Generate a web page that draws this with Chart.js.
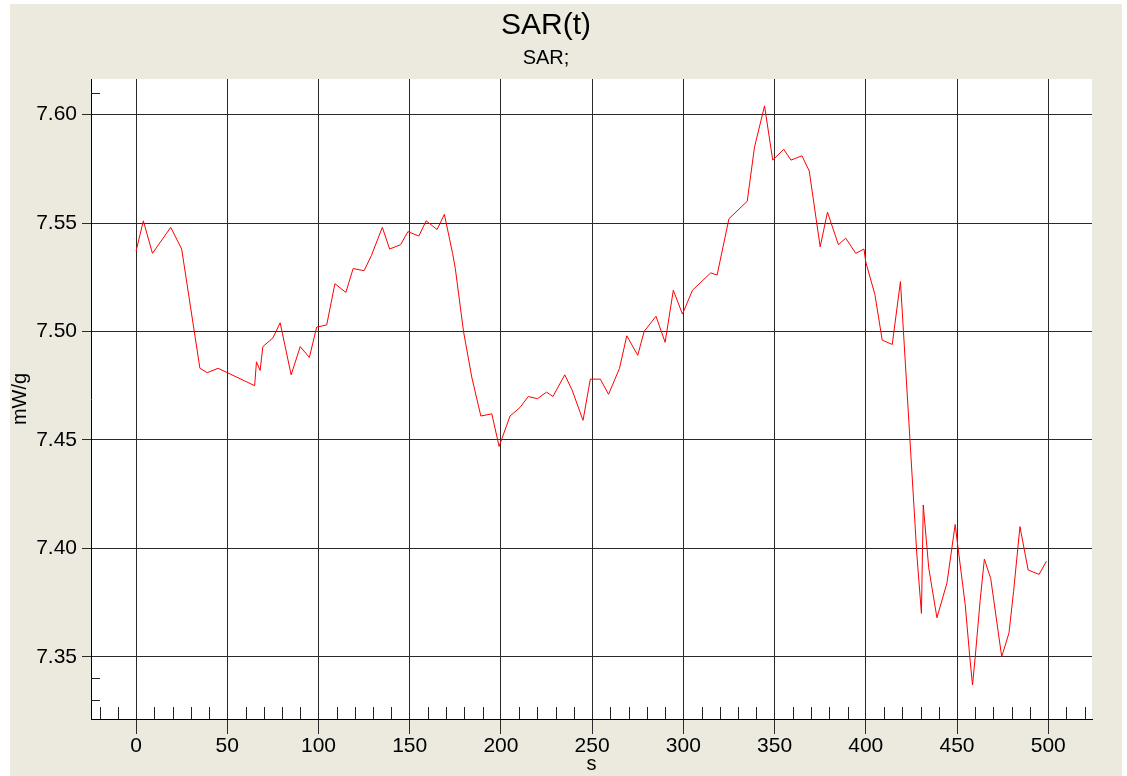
<!DOCTYPE html>
<html>
<head>
<meta charset="utf-8">
<script src="https://cdn.jsdelivr.net/npm/chart.js@4/dist/chart.umd.min.js"></script>
<style>
  html, body { margin: 0; padding: 0; background: #ffffff; }
  #sarChart { display: block; }
</style>
</head>
<body>
<canvas id="sarChart" width="1127" height="776"></canvas>
<script>
// tempo (s) e SAR medido (mW/g)
const tempo = [0, 4, 9, 19, 25, 35, 39, 45, 50, 65,
  66, 68, 69.5, 75, 79, 85, 90, 95, 99, 104.5,
  109, 115, 119, 125, 129, 135, 139, 145, 149, 155,
  159, 165, 169, 173.5, 175, 179.5, 184, 189, 195, 199,
  205, 210.5, 215, 220, 225, 228.5, 235, 239, 245, 249,
  254.5, 259, 265, 269, 275, 278.5, 285, 290, 294.5, 299.5,
  305, 315, 318.5, 325, 335, 339, 344.5, 349, 355, 359,
  365, 369, 375, 379, 385, 389, 394.5, 399, 400, 405,
  409, 414.5, 419, 428, 430.5, 431.5, 434.5, 439, 444.5, 449,
  450, 454.5, 457, 458.5, 460, 462.7, 465, 468.5, 474.5, 478.5,
  481, 484.5, 489, 495, 499];

const valoresSAR = [7.537, 7.551, 7.536, 7.548, 7.538, 7.483, 7.481, 7.483, 7.481, 7.475,
  7.486, 7.482, 7.493, 7.497, 7.504, 7.480, 7.493, 7.488, 7.502, 7.503,
  7.522, 7.518, 7.529, 7.528, 7.535, 7.548, 7.538, 7.540, 7.546, 7.544,
  7.551, 7.547, 7.554, 7.536, 7.529, 7.500, 7.479, 7.461, 7.462, 7.447,
  7.461, 7.465, 7.470, 7.469, 7.472, 7.470, 7.480, 7.473, 7.459, 7.478,
  7.478, 7.471, 7.483, 7.498, 7.489, 7.500, 7.507, 7.495, 7.519, 7.508,
  7.519, 7.527, 7.526, 7.552, 7.560, 7.585, 7.604, 7.579, 7.584, 7.579,
  7.581, 7.574, 7.539, 7.555, 7.540, 7.543, 7.536, 7.538, 7.532, 7.517,
  7.496, 7.494, 7.523, 7.397, 7.370, 7.420, 7.391, 7.368, 7.384, 7.411,
  7.404, 7.374, 7.350, 7.337, 7.350, 7.376, 7.395, 7.386, 7.350, 7.361,
  7.380, 7.410, 7.390, 7.388, 7.394];

// marcas dos eixos
const ticksX = [0, 50, 100, 150, 200, 250, 300, 350, 400, 450, 500];
const ticksY = [7.35, 7.40, 7.45, 7.50, 7.55, 7.60];
const ticksMenoresX = [-20, -10, 10, 20, 30, 40, 60, 70, 80, 90, 110, 120, 130, 140,
  160, 170, 180, 190, 210, 220, 230, 240, 260, 270, 280, 290, 310, 320, 330, 340,
  360, 370, 380, 390, 410, 420, 430, 440, 460, 470, 480, 490, 510, 520];
const ticksMenoresY = [7.61, 7.34, 7.33];

const fonte = "'Liberation Sans', Arial, sans-serif";

const pontos = tempo.map((t, i) => ({ x: t, y: valoresSAR[i] }));

// fundo bege da janela e area do grafico em branco
const fundo = {
  id: 'fundo',
  beforeDraw(chart) {
    const { ctx, chartArea } = chart;
    ctx.save();
    ctx.fillStyle = '#ffffff';
    ctx.fillRect(0, 0, chart.width, chart.height);
    ctx.fillStyle = '#ece9df';
    ctx.fillRect(10, 4, chart.width - 15, chart.height - 4);
    ctx.fillStyle = '#ffffff';
    ctx.fillRect(chartArea.left, chartArea.top, chartArea.right - chartArea.left, chartArea.bottom - chartArea.top);
    ctx.restore();
  }
};

// tracinhos menores por dentro da moldura
const ticksMenores = {
  id: 'ticksMenores',
  afterDraw(chart) {
    const { ctx, chartArea, scales } = chart;
    ctx.save();
    ctx.strokeStyle = '#222222';
    ctx.lineWidth = 1;
    ctx.beginPath();
    ticksMenoresX.forEach(v => {
      const px = Math.round(scales.x.getPixelForValue(v)) + 0.5;
      ctx.moveTo(px, chartArea.bottom);
      ctx.lineTo(px, chartArea.bottom - 12);
    });
    ticksMenoresY.forEach(v => {
      const py = Math.round(scales.y.getPixelForValue(v)) + 0.5;
      ctx.moveTo(chartArea.left, py);
      ctx.lineTo(chartArea.left + 9, py);
    });
    ctx.stroke();
    ctx.restore();
  }
};

new Chart(document.getElementById('sarChart'), {
  type: 'line',
  data: {
    datasets: [{
      label: 'SAR',
      data: pontos,
      borderColor: '#ff0000',
      borderWidth: 1,
      pointRadius: 0,
      tension: 0,
      fill: false
    }]
  },
  options: {
    responsive: false,
    animation: false,
    devicePixelRatio: 1,
    layout: { padding: { left: 0, right: 35, top: 0, bottom: 0 } },
    plugins: {
      legend: { display: false },
      tooltip: { enabled: false },
      title: {
        display: true,
        text: 'SAR(t)',
        color: '#000000',
        font: { family: fonte, size: 30, weight: 'normal', lineHeight: 1.2 },
        padding: { top: 8, bottom: 0 }
      },
      subtitle: {
        display: true,
        text: 'SAR;',
        color: '#000000',
        font: { family: fonte, size: 20, weight: 'normal', lineHeight: 1.2 },
        padding: { top: 2, bottom: 9 }
      }
    },
    scales: {
      x: {
        type: 'linear',
        min: -24.7,
        max: 524,
        afterBuildTicks: scale => { scale.ticks = ticksX.map(v => ({ value: v })); },
        afterFit: scale => { scale.height = 57; },
        grid: { color: '#2a2a2a', tickColor: '#2a2a2a', tickLength: 15, lineWidth: 1 },
        border: { display: true, color: '#000000', width: 1 },
        ticks: {
          color: '#000000',
          font: { family: fonte, size: 21 },
          padding: 0,
          maxRotation: 0,
          autoSkip: false
        },
        title: {
          display: true,
          text: 's',
          color: '#000000',
          font: { family: fonte, size: 20 },
          padding: { top: 0, bottom: 0 }
        }
      },
      y: {
        type: 'linear',
        min: 7.3213,
        max: 7.6164,
        afterBuildTicks: scale => { scale.ticks = ticksY.map(v => ({ value: v })); },
        afterFit: scale => { scale.width = 91; },
        grid: { color: '#2a2a2a', tickColor: '#2a2a2a', tickLength: 9, lineWidth: 1 },
        border: { display: true, color: '#000000', width: 1 },
        ticks: {
          color: '#000000',
          font: { family: fonte, size: 21 },
          padding: 5,
          autoSkip: false,
          callback: v => v.toFixed(2)
        },
        title: {
          display: true,
          text: 'mW/g',
          color: '#000000',
          font: { family: fonte, size: 20 },
          padding: { top: 8, bottom: 0 }
        }
      }
    }
  },
  plugins: [fundo, ticksMenores]
});
</script>
</body>
</html>
